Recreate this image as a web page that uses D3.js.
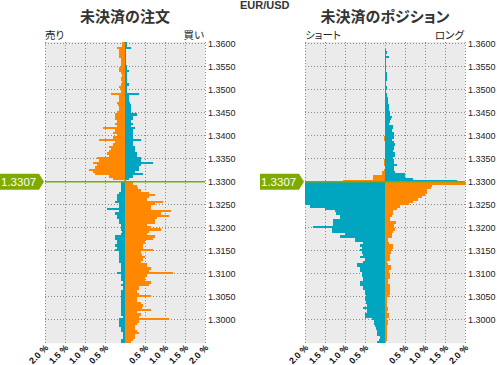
<!DOCTYPE html>
<html><head><meta charset="utf-8">
<script src="https://cdn.jsdelivr.net/npm/d3@7/dist/d3.min.js"></script>
<style>body{margin:0;background:#fff}svg{display:block}</style>
</head><body><svg id="c" width="497" height="365"></svg>
<script>
const pair = "EUR/USD";
const currentPrice = 1.3307;
const priceLineLevel = 1.3300;
const levelTop = 1.3600, levelStep = 0.0005, levelCount = 131;
const levels = d3.range(levelCount).map(i => +(levelTop - i * levelStep).toFixed(4));
const priceTicks = [1.3600,1.3550,1.3500,1.3450,1.3400,1.3350,1.3300,1.3250,1.3200,1.3150,1.3100,1.3050,1.3000];
const pctTicks = [-2,-1.5,-1,-0.5,0,0.5,1,1.5,2];
const pctLabels = ["2.0 %","1.5 %","1.0 %","0.5 %","","0.5 %","1.0 %","1.5 %","2.0 %"];

// Open orders: left side (sell), right side (buy), % per 0.0005 bucket, top (1.3600) to bottom (1.2950)
const orderLeft = [
0.08,0.07,0.21,0.16,0.14,0.16,0.14,0.11,0.11,0.09,
0.11,0.14,0.14,0.09,0.08,0.09,0.09,0.08,0.09,0.14,
0.13,0.11,0.34,0.14,0.14,0.16,0.19,0.17,0.16,0.14,
0.19,0.26,0.24,0.26,0.21,0.24,0.19,0.54,0.26,0.29,
0.21,0.31,0.64,0.26,0.31,0.39,0.36,0.39,0.44,0.41,
0.69,0.66,0.81,0.71,0.74,0.91,0.81,0.76,0.41,0.31,
0.02,
0.11,0.09,0.09,0.09,0.14,0.19,0.19,0.19,0.24,0.14,
0.16,0.44,0.16,0.26,0.21,0.19,0.16,0.14,0.11,0.11,
0.09,0.08,0.09,0.24,0.24,0.19,0.21,0.24,0.19,0.24,
0.16,0.14,0.14,0.14,0.14,0.09,0.09,0.11,0.09,0.21,
0.09,0.09,0.09,0.06,0.09,0.06,0.06,0.09,0.09,0.11,
0.09,0.09,0.09,0.09,0.09,0.09,0.09,0.09,0.06,0.14,
0.16,0.16,0.16,0.09,0.11,0.06,0.06,0.06,0.09,0.09];
const orderRight = [
0.04,0.04,0.14,0.03,0.03,0.03,0.03,0.03,0.02,0.03,
0.04,0.05,0.09,0.05,0.05,0.04,0.05,0.05,0.09,0.05,
0.05,0.04,0.34,0.11,0.11,0.11,0.13,0.14,0.14,0.16,
0.16,0.29,0.19,0.19,0.16,0.19,0.16,0.26,0.19,0.19,
0.21,0.19,0.39,0.21,0.21,0.24,0.24,0.26,0.29,0.29,
0.41,0.41,0.71,0.39,0.36,0.34,0.26,0.44,0.19,0.11,
0.00,
0.21,0.29,0.33,0.39,0.61,0.74,0.59,0.56,0.94,0.76,
0.66,0.66,1.16,0.89,1.09,0.81,0.76,0.74,0.54,0.64,
0.89,0.59,0.56,0.76,0.69,0.49,0.51,0.44,0.46,0.71,
0.41,0.43,0.49,0.46,0.39,0.56,0.54,0.64,0.59,1.19,
0.54,0.49,0.49,0.64,0.59,0.36,0.34,0.31,0.36,0.66,
0.31,0.29,0.39,0.46,0.43,0.66,0.29,0.41,0.36,1.09,
0.34,0.29,0.26,0.26,0.31,0.34,0.26,0.24,0.20,0.14];
// Open positions: left side (short), right side (long)
const posLeft = [
0,0,0,0,0,0,0,0,0,0,
0,0,0,0,0,0,0,0,0,0,
0,0,0,0,0,0,0,0,0,0,
0,0,0,0,0,0,0,0,0,0,
0,0.02,0.02,0,0,0,0,0,0,0,
0,0.02,0.02,0.02,0,0.02,0.07,0.07,0.30,0.30,
1.04,
2.0,2.0,2.0,2.0,2.0,2.0,2.0,2.0,2.0,2.0,
1.87,1.50,1.25,1.22,1.12,1.12,1.29,1.29,1.29,1.79,
1.33,1.33,1.00,1.12,0.75,0.75,0.55,0.63,0.58,0.63,
0.58,0.55,0.63,0.50,0.55,0.70,0.70,0.63,0.63,0.58,
0.58,0.55,0.55,0.63,0.63,0.55,0.55,0.50,0.50,0.47,
0.50,0.47,0.47,0.45,0.55,0.45,0.45,0.50,0.50,0.32,
0.27,0.27,0.25,0.22,0.20,0.20,0.20,0.13,0.15,0.20];
const posRight = [
0,0,0,0.02,0.05,0.03,0.10,0.03,0.03,0.02,
0.03,0.02,0.03,0.06,0.06,0.05,0.05,0.03,0.03,0.05,
0.05,0.03,0.05,0.05,0.07,0.07,0.08,0.10,0.10,0.10,
0.12,0.12,0.17,0.15,0.12,0.10,0.20,0.20,0.17,0.22,
0.22,0.22,0.17,0.22,0.25,0.22,0.22,0.20,0.25,0.25,
0.20,0.22,0.22,0.30,0.22,0.22,0.25,0.50,0.50,0.71,
1.80,
2.03,1.17,1.15,1.05,1.05,1.00,0.92,0.82,0.69,0.60,
0.38,0.29,0.21,0.21,0.17,0.12,0.12,0.27,0.22,0.22,
0.25,0.19,0.17,0.17,0.07,0.07,0.10,0.20,0.20,0.17,
0.15,0.12,0.12,0.12,0.05,0.07,0.15,0.15,0.10,0.10,
0.12,0.12,0.07,0.07,0.12,0.12,0.12,0.12,0.12,0.10,
0.05,0.05,0.05,0.05,0.07,0.07,0.05,0.10,0.10,0.05,
0.07,0.07,0.05,0.05,0.05,0.05,0.05,0.05,0.05,0.03];

const ORANGE = "#ff8800", TEAL = "#00a5bf", GREEN = "#7fab00", BG = "#ebebeb", GRID = "#8a8a8a";
const NUM = "'Liberation Sans', Arial, sans-serif";
const JP = "'Noto Sans CJK JP', sans-serif";

const panels = [
  {title: "未決済の注文", leftLabel: "売り", rightLabel: "買い", x0: 45, left: orderLeft, right: orderRight},
  {title: "未決済のポジション", leftLabel: "ショート", rightLabel: "ロング", x0: 305, left: posLeft, right: posRight}
];

const svg = d3.select("#c");
const y = d3.scaleLinear().domain([1.3000, 1.3600]).range([320.3, 44.3]);
const yTop = y(levelTop + levelStep), yBot = y(levels[levels.length - 1]);

svg.append("text").attr("x", 240).attr("y", 9).text(pair)
  .style("font-family", NUM).style("font-size", "11px").style("font-weight", "bold").attr("fill", "#333");

panels.forEach(p => {
  const w = 160;
  const x = d3.scaleLinear().domain([-2, 2]).range([p.x0, p.x0 + w]);
  const g = svg.append("g");
  g.append("rect").attr("x", p.x0).attr("y", yTop).attr("width", w).attr("height", yBot - yTop).attr("fill", BG);

  // grid
  g.selectAll("line.v").data(pctTicks).enter().append("line")
    .attr("x1", d => Math.round(x(d)) + 0.5).attr("x2", d => Math.round(x(d)) + 0.5)
    .attr("y1", yTop).attr("y2", yBot)
    .attr("stroke", GRID).attr("stroke-dasharray", "1,2");
  g.selectAll("line.h").data(priceTicks).enter().append("line")
    .attr("x1", p.x0).attr("x2", p.x0 + w)
    .attr("y1", d => Math.round(y(d)) - 0.5).attr("y2", d => Math.round(y(d)) - 0.5)
    .attr("stroke", GRID).attr("stroke-dasharray", "1,2");

  // bars
  const rows = levels.map((lv, i) => ({lv, i, above: lv >= priceLineLevel, l: p.left[i], r: p.right[i]}));
  g.selectAll("rect.l").data(rows.filter(d => d.l > 0)).enter().append("rect")
    .attr("x", d => x(-d.l)).attr("width", d => x(0) - x(-d.l))
    .attr("y", d => y(d.lv + levelStep)).attr("height", d => y(d.lv) - y(d.lv + levelStep))
    .attr("fill", d => d.above ? ORANGE : TEAL).attr("shape-rendering", "crispEdges");
  g.selectAll("rect.r").data(rows.filter(d => d.r > 0)).enter().append("rect")
    .attr("x", x(0)).attr("width", d => x(d.r) - x(0))
    .attr("y", d => y(d.lv + levelStep)).attr("height", d => y(d.lv) - y(d.lv + levelStep))
    .attr("fill", d => d.above ? TEAL : ORANGE).attr("shape-rendering", "crispEdges");

  // price line
  const py = y(priceLineLevel) - 0.5;
  g.append("line").attr("x1", p.x0).attr("x2", p.x0 + w).attr("y1", py).attr("y2", py)
    .attr("stroke", GREEN).attr("stroke-width", 1.5);
  // marker
  const mx0 = p.x0 - 45, mx1 = p.x0 - 6, tip = p.x0 - 1;
  g.append("path").attr("d", `M${mx0},${py - 8}L${mx1},${py - 8}L${tip},${py}L${mx1},${py + 8}L${mx0},${py + 8}Z`)
    .attr("fill", GREEN);
  g.append("text").attr("x", mx0 + 1).attr("y", py + 4).text(currentPrice.toFixed(4))
    .style("font-family", NUM).style("font-size", "11.5px").attr("fill", "#fff");

  // y labels
  g.selectAll("text.y").data(priceTicks).enter().append("text")
    .attr("x", p.x0 + w + 3).attr("y", d => y(d) + 3)
    .text(d => d.toFixed(4))
    .style("font-family", NUM).style("font-size", "9px").attr("fill", "#222");

  // x labels
  g.selectAll("text.x").data(pctTicks.map((v, i) => ({v, t: pctLabels[i]})).filter(d => d.t)).enter().append("text")
    .attr("transform", d => `translate(${x(d.v) + 4},${yBot + 5}) rotate(-45)`)
    .attr("text-anchor", "end").text(d => d.t)
    .style("font-family", NUM).style("font-size", "9px").style("font-weight", "bold").attr("fill", "#111");

  // titles
  g.append("text").attr("x", p.x0 + w / 2).attr("y", 22).attr("text-anchor", "middle").text(p.title)
    .style("font-family", JP).style("font-size", "15px").style("font-weight", "bold")
    .style("font-feature-settings", "'palt'").attr("fill", "#333");
  g.append("text").attr("x", p.x0).attr("y", 39).text(p.leftLabel)
    .style("font-family", JP).style("font-size", "10.5px").style("font-feature-settings", "'palt'").attr("fill", "#222");
  g.append("text").attr("x", p.x0 + w - 1).attr("y", 39).attr("text-anchor", "end").text(p.rightLabel)
    .style("font-family", JP).style("font-size", "10.5px").style("font-feature-settings", "'palt'").attr("fill", "#222");
});
</script></body></html>
